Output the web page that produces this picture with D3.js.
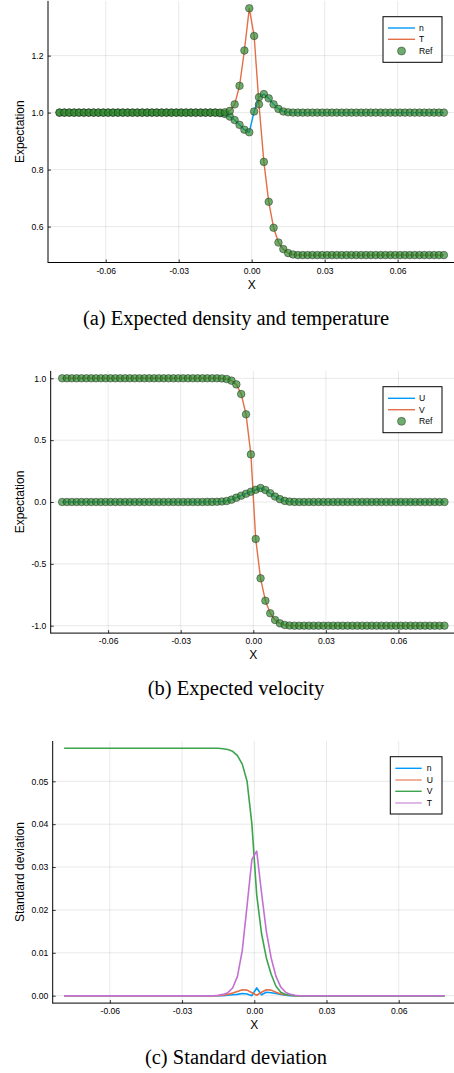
<!DOCTYPE html>
<html><head><meta charset="utf-8">
<script src="https://cdn.jsdelivr.net/npm/d3@7"></script>
<style>body{margin:0;background:#fff}svg{display:block}</style>
</head><body>
<svg id="chart" width="454" height="1073"></svg>
<script>
// ---- data ----
const xGrid = [
-0.079,-0.077,-0.075,-0.073,-0.071,-0.069,-0.067,-0.065,-0.063,-0.061,
-0.059,-0.057,-0.055,-0.053,-0.051,-0.049,-0.047,-0.045,-0.043,-0.041,
-0.039,-0.037,-0.035,-0.033,-0.031,-0.029,-0.027,-0.025,-0.023,-0.021,
-0.019,-0.017,-0.015,-0.013,-0.011,-0.009,-0.007,-0.005,-0.003,-0.001,
0.001,0.003,0.005,0.007,0.009,0.011,0.013,0.015,0.017,0.019,
0.021,0.023,0.025,0.027,0.029,0.031,0.033,0.035,0.037,0.039,
0.041,0.043,0.045,0.047,0.049,0.051,0.053,0.055,0.057,0.059,
0.061,0.063,0.065,0.067,0.069,0.071,0.073,0.075,0.077,0.079];

const expN = [
1,1,1,1,1,1,1,1,1,1,
1,1,1,1,1,1,1,1,1,1,
1,1,1,1,1,1,1,1,1,1,
1,1,1,0.998,0.995,0.986,0.974,0.957,0.940,0.931,
1.004,1.054,1.065,1.050,1.029,1.013,1.004,1.001,1,1,
1,1,1,1,1,1,1,1,1,1,
1,1,1,1,1,1,1,1,1,1,
1,1,1,1,1,1,1,1,1,1];

const expT = [
1,1,1,1,1,1,1,1,1,1,
1,1,1,1,1,1,1,1,1,1,
1,1,1,1,1,1,1,1,1,1,
1,1,1,1,1.001,1.006,1.029,1.094,1.218,1.366,
1.269,1.029,0.827,0.687,0.596,0.544,0.521,0.507,0.502,0.5,
0.5,0.5,0.5,0.5,0.5,0.5,0.5,0.5,0.5,0.5,
0.5,0.5,0.5,0.5,0.5,0.5,0.5,0.5,0.5,0.5,
0.5,0.5,0.5,0.5,0.5,0.5,0.5,0.5,0.5,0.5];

const expU = [
0,0,0,0,0,0,0,0,0,0,
0,0,0,0,0,0,0,0,0,0,
0,0,0,0,0,0,0,0,0,0,
0.001,0.001,0.002,0.004,0.008,0.019,0.035,0.051,0.067,0.083,
0.099,0.113,0.097,0.071,0.044,0.023,0.009,0.003,0.001,0,
0,0,0,0,0,0,0,0,0,0,
0,0,0,0,0,0,0,0,0,0,
0,0,0,0,0,0,0,0,0,0];

const expV = [
1,1,1,1,1,1,1,1,1,1,
1,1,1,1,1,1,1,1,1,1,
1,1,1,1,1,1,1,1,1,1,
1,1,1,0.999,0.994,0.981,0.951,0.873,0.709,0.385,
-0.299,-0.617,-0.798,-0.900,-0.954,-0.981,-0.994,-0.999,-1,-1,
-1,-1,-1,-1,-1,-1,-1,-1,-1,-1,
-1,-1,-1,-1,-1,-1,-1,-1,-1,-1,
-1,-1,-1,-1,-1,-1,-1,-1,-1,-1];

// reference solution (markers) — coincide with the expectations
const refN = expN.slice(), refT = expT.slice(), refU = expU.slice(), refV = expV.slice();

const sdN = [
0,0,0,0,0,0,0,0,0,0,
0,0,0,0,0,0,0,0,0,0,
0,0,0,0,0,0,0,0,0,0,
0,0,0,0,0.0001,0.0002,0.0003,0.0005,0.0004,0.0000,
0.0018,0.0002,0.0008,0.0007,0.0005,0.0003,0.0001,0,0,0,
0,0,0,0,0,0,0,0,0,0,
0,0,0,0,0,0,0,0,0,0,
0,0,0,0,0,0,0,0,0,0];

const sdU = [
0,0,0,0,0,0,0,0,0,0,
0,0,0,0,0,0,0,0,0,0,
0,0,0,0,0,0,0,0,0,0,
0,0,0,0.0001,0.0003,0.0006,0.0010,0.0014,0.0013,0.0007,
0.0001,0.0008,0.0014,0.0013,0.0008,0.0004,0.0002,0.0001,0,0,
0,0,0,0,0,0,0,0,0,0,
0,0,0,0,0,0,0,0,0,0,
0,0,0,0,0,0,0,0,0,0];

const sdV = [
0.0577,0.0577,0.0577,0.0577,0.0577,0.0577,0.0577,0.0577,0.0577,0.0577,
0.0577,0.0577,0.0577,0.0577,0.0577,0.0577,0.0577,0.0577,0.0577,0.0577,
0.0577,0.0577,0.0577,0.0577,0.0577,0.0577,0.0577,0.0577,0.0577,0.0577,
0.0577,0.0577,0.0577,0.0576,0.0574,0.0570,0.0560,0.0540,0.0500,0.0400,
0.0235,0.0145,0.0088,0.0050,0.0022,0.0008,0.0003,0.0001,0,0,
0,0,0,0,0,0,0,0,0,0,
0,0,0,0,0,0,0,0,0,0,
0,0,0,0,0,0,0,0,0,0];

const sdT = [
0,0,0,0,0,0,0,0,0,0,
0,0,0,0,0,0,0,0,0,0,
0,0,0,0,0,0,0,0,0,0,
0,0,0.0001,0.0003,0.0007,0.0018,0.0045,0.0105,0.0210,0.0318,
0.0337,0.0240,0.0150,0.0088,0.0045,0.0020,0.0008,0.0003,0.0001,0,
0,0,0,0,0,0,0,0,0,0,
0,0,0,0,0,0,0,0,0,0,
0,0,0,0,0,0,0,0,0,0];

const xTicks = [-0.06, -0.03, 0, 0.03, 0.06];
const xTickLabels = ["-0.06", "-0.03", "0.00", "0.03", "0.06"];
const yTicksA = [0.6, 0.8, 1.0, 1.2];
const yTickLabelsA = ["0.6", "0.8", "1.0", "1.2"];
const yTicksB = [-1, -0.5, 0, 0.5, 1];
const yTickLabelsB = ["-1.0", "-0.5", "0.0", "0.5", "1.0"];
const yTicksC = [0, 0.01, 0.02, 0.03, 0.04, 0.05];
const yTickLabelsC = ["0.00", "0.01", "0.02", "0.03", "0.04", "0.05"];

const captions = ["(a) Expected density and temperature", "(b) Expected velocity", "(c) Standard deviation"];

// ---- drawing ----
const C = {blue:"#009AFA", orange:"#E36F47", green:"#3DA44D", purple:"#C271D2"};
const MARK = {fill: "#2f8a2f", fo: 0.7, stroke: "#1a1a1a", so: 0.55};
const svg = d3.select("#chart");
const SANS = "'Liberation Sans', Arial, sans-serif";

function panel(cfg) {
  const g = svg.append("g");
  const x = d3.scaleLinear().domain([-0.08374, 0.08374]).range([cfg.left, cfg.right]);
  const y = d3.scaleLinear().domain(cfg.yDomain).range([cfg.bottom, cfg.top]);

  // grid
  g.selectAll(".gx").data(xTicks).join("line")
    .attr("x1", d => x(d)).attr("x2", d => x(d)).attr("y1", cfg.top).attr("y2", cfg.bottom)
    .attr("stroke", "#000").attr("stroke-opacity", 0.1).attr("stroke-width", 0.9);
  g.selectAll(".gy").data(cfg.yTicks).join("line")
    .attr("x1", cfg.left).attr("x2", cfg.right).attr("y1", d => y(d)).attr("y2", d => y(d))
    .attr("stroke", "#000").attr("stroke-opacity", 0.1).attr("stroke-width", 0.9);

  // axes
  const ax = d3.axisBottom(x).tickValues(xTicks).tickFormat((d, i) => xTickLabels[i]).tickSize(-3).tickPadding(5);
  const gxA = g.append("g").attr("transform", `translate(0,${cfg.bottom})`).call(ax);
  const ay = d3.axisLeft(y).tickValues(cfg.yTicks).tickFormat((d, i) => cfg.yLabels[i]).tickSize(-3).tickPadding(4.5);
  const gyA = g.append("g").attr("transform", `translate(${cfg.left},0)`).call(ay);
  [gxA, gyA].forEach(a => {
    a.select(".domain").remove();
    a.selectAll("text").attr("font-family", SANS).attr("font-size", 8.6).attr("fill", "#000");
    a.selectAll(".tick line").attr("stroke", "#000").attr("stroke-width", 0.8);
  });
  g.append("line").attr("x1", cfg.left).attr("x2", cfg.left).attr("y1", cfg.top).attr("y2", cfg.bottom + 0.5)
    .attr("stroke", "#000").attr("stroke-width", 1);
  g.append("line").attr("x1", cfg.left).attr("x2", cfg.right).attr("y1", cfg.bottom).attr("y2", cfg.bottom)
    .attr("stroke", "#000").attr("stroke-width", 1);

  // series lines
  const line = d3.line().x((d, i) => x(xGrid[i])).y(d => y(d));
  cfg.series.forEach(s => {
    g.append("path").datum(s.values).attr("d", line).attr("fill", "none")
      .attr("stroke", s.color).attr("stroke-width", s.width || 1.4).attr("stroke-linejoin", "round");
  });

  // reference markers
  (cfg.refs || []).forEach(r => {
    g.selectAll(null).data(r).join("circle")
      .attr("cx", (d, i) => x(xGrid[i])).attr("cy", d => y(d)).attr("r", 3.8)
      .attr("fill", MARK.fill).attr("fill-opacity", MARK.fo)
      .attr("stroke", MARK.stroke).attr("stroke-opacity", MARK.so).attr("stroke-width", 0.8);
  });

  // axis titles
  g.append("text").attr("x", (cfg.left + cfg.right) / 2).attr("y", cfg.bottom + 26)
    .attr("text-anchor", "middle").attr("font-family", SANS).attr("font-size", 12).text("X");
  g.append("text").attr("transform", `translate(24,${(cfg.top + cfg.bottom) / 2}) rotate(-90)`)
    .attr("text-anchor", "middle").attr("font-family", SANS).attr("font-size", 12).text(cfg.yTitle);

  // legend
  const L = cfg.legend;
  g.append("rect").attr("x", L.x0).attr("y", L.y0).attr("width", L.x1 - L.x0).attr("height", L.y1 - L.y0)
    .attr("fill", "#fff").attr("stroke", "#000").attr("stroke-width", 1);
  L.items.forEach((it, k) => {
    const yy = L.rows[k];
    if (it.type === "line") {
      g.append("line").attr("x1", L.lx0).attr("x2", L.lx1).attr("y1", yy).attr("y2", yy)
        .attr("stroke", it.color).attr("stroke-width", it.width || 1.4).attr("stroke-opacity", it.opacity || 1);
    } else {
      g.append("circle").attr("cx", (L.lx0 + L.lx1) / 2).attr("cy", yy).attr("r", 4)
        .attr("fill", MARK.fill).attr("fill-opacity", MARK.fo)
        .attr("stroke", MARK.stroke).attr("stroke-opacity", MARK.so).attr("stroke-width", 0.8);
    }
    g.append("text").attr("x", L.tx).attr("y", yy + 3).attr("font-family", SANS).attr("font-size", 8.6)
      .text(it.label);
  });

  // caption
  svg.append("text").attr("x", 236).attr("y", cfg.captionY).attr("text-anchor", "middle")
    .attr("font-family", "'Liberation Serif', 'Times New Roman', serif").attr("font-size", 20.5)
    .text(cfg.caption);
}

panel({
  left: 48, right: 455.4, top: 0.9, bottom: 262.5, yDomain: [0.474, 1.392],
  yTicks: yTicksA, yLabels: yTickLabelsA, yTitle: "Expectation",
  series: [{values: expN, color: C.blue}, {values: expT, color: C.orange}],
  refs: [refN, refT],
  legend: {x0: 383, x1: 442, y0: 16.7, y1: 62.3, rows: [28, 39.3, 51], lx0: 388, lx1: 415, tx: 419,
    items: [{type: "line", color: C.blue, label: "n"}, {type: "line", color: C.orange, label: "T"}, {type: "marker", label: "Ref"}]},
  caption: captions[0], captionY: 325
});

panel({
  left: 50.7, right: 455.9, top: 370.9, bottom: 633.1, yDomain: [-1.06, 1.06],
  yTicks: yTicksB, yLabels: yTickLabelsB, yTitle: "Expectation",
  series: [{values: expU, color: C.blue}, {values: expV, color: C.orange}],
  refs: [refU, refV],
  legend: {x0: 383, x1: 442, y0: 386.7, y1: 432.7, rows: [398.3, 409.7, 421.3], lx0: 388, lx1: 415, tx: 419,
    items: [{type: "line", color: C.blue, label: "U"}, {type: "line", color: C.orange, label: "V"}, {type: "marker", label: "Ref"}]},
  caption: captions[1], captionY: 695
});

panel({
  left: 52.7, right: 455.9, top: 741, bottom: 1003.1, yDomain: [-0.00173, 0.0594],
  yTicks: yTicksC, yLabels: yTickLabelsC, yTitle: "Standard deviation",
  series: [{values: sdN, color: C.blue, width: 1.6}, {values: sdU, color: C.orange, width: 1.6},
           {values: sdV, color: C.green, width: 1.6}, {values: sdT, color: C.purple, width: 1.6}],
  legend: {x0: 390.3, x1: 442, y0: 756.7, y1: 814, rows: [768.3, 780, 791.3, 803], lx0: 395.3, lx1: 421.7, tx: 426.7,
    items: [{type: "line", color: C.blue, label: "n"}, {type: "line", color: C.orange, label: "U", width: 2, opacity: 0.55},
            {type: "line", color: C.green, label: "V"}, {type: "line", color: C.purple, label: "T", width: 2, opacity: 0.5}]},
  caption: captions[2], captionY: 1064
});
</script>
</body></html>
